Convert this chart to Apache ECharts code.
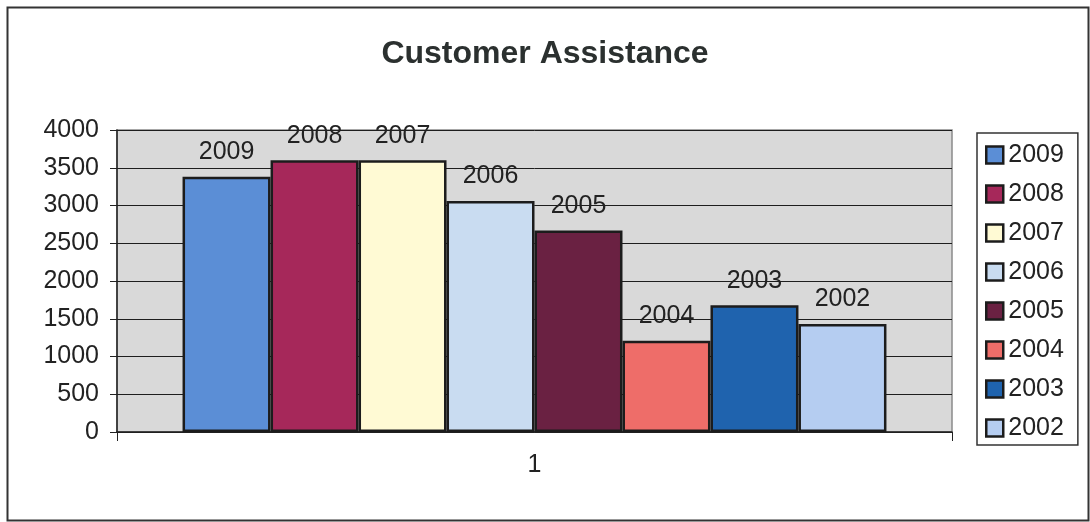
<!DOCTYPE html>
<html>
<head>
<meta charset="utf-8">
<script src="https://cdn.jsdelivr.net/npm/echarts@6/dist/echarts.min.js"></script>
<style>
  html, body { margin: 0; padding: 0; background: #ffffff; }
  #chart { width: 1090px; height: 522px; }
</style>
</head>
<body>
<div id="chart"></div>
<script>
// Customer Assistance by year: one category, one bar per year
const categories = ['1'];
const years = ['2009', '2008', '2007', '2006', '2005', '2004', '2003', '2002'];
const values = [3380, 3600, 3600, 3060, 2670, 1210, 1680, 1430];
const colors = ['#5b8ed6', '#a6285a', '#fffad4', '#c9dcf1', '#6a2142', '#ee6d69', '#1f63ae', '#b5cdf1'];
const yTicks = { min: 0, max: 4000, interval: 500 };

const FONT = '"Liberation Sans", Arial, sans-serif';
const INK = '#222222';

const series = years.map((y, i) => ({
  name: y,
  type: 'bar',
  data: [values[i]],
  barGap: '0%',
  barCategoryGap: '15.7%',
  itemStyle: { color: colors[i], borderColor: '#1c1c1c', borderWidth: 2.5 },
  label: {
    show: true,
    position: 'top',
    distance: 12,
    formatter: '{a}',
    color: INK,
    fontSize: 25,
    fontFamily: FONT
  }
}));

const chart = echarts.init(document.getElementById('chart'), null, { renderer: 'canvas' });
chart.setOption({
  animation: false,
  backgroundColor: '#ffffff',
  title: {
    text: 'Customer Assistance',
    left: 'center',
    top: 33,
    textStyle: { fontSize: 32, fontWeight: 'bold', color: '#2b302f', fontFamily: FONT }
  },
  grid: {
    left: 117, right: 138, top: 130, bottom: 90,
    show: true,
    backgroundColor: '#d9d9d9',
    borderColor: '#8a8a8a',
    borderWidth: 1.5
  },
  legend: {
    orient: 'vertical',
    left: 977,
    top: 133,
    padding: [9, 14, 4, 8],
    itemWidth: 17,
    itemHeight: 17,
    itemGap: 13,
    borderColor: '#333333',
    borderWidth: 1.5,
    icon: 'rect',
    itemStyle: { borderColor: '#1c1c1c', borderWidth: 2.5 },
    textStyle: { fontSize: 25, lineHeight: 26, color: INK, fontFamily: FONT },
    data: years
  },
  xAxis: {
    type: 'category',
    data: categories,
    axisLine: { show: true, lineStyle: { color: INK, width: 1.5 } },
    axisTick: { show: true, length: 9, lineStyle: { color: INK, width: 1 } },
    axisLabel: { fontSize: 25, color: INK, margin: 21, fontFamily: FONT },
    splitLine: { show: false }
  },
  yAxis: {
    type: 'value',
    min: yTicks.min,
    max: yTicks.max,
    interval: yTicks.interval,
    axisLine: { show: true, lineStyle: { color: INK, width: 1.5 } },
    axisTick: { show: true, length: 7, lineStyle: { color: INK, width: 1 } },
    axisLabel: { fontSize: 25, color: INK, margin: 18, fontFamily: FONT, formatter: v => String(v) },
    splitLine: { show: true, lineStyle: { color: '#1e1e1e', width: 1 } }
  },
  graphic: [{
    type: 'rect',
    left: 5, top: 5,
    shape: { width: 1081, height: 513 },
    style: { fill: null, stroke: '#333333', lineWidth: 2 },
    silent: true,
    z: -1
  }],
  series: series
});
</script>
</body>
</html>
